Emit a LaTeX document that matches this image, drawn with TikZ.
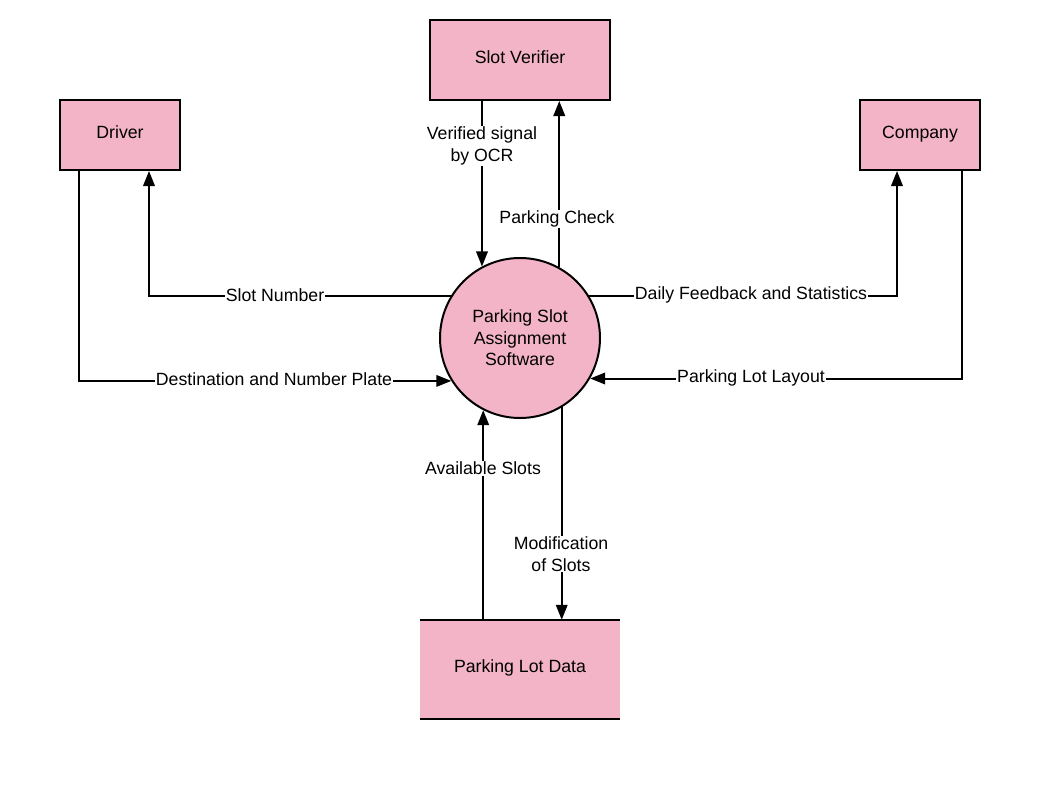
\documentclass[tikz,border=0pt]{standalone}
\usepackage{fontspec}
\setmainfont{Liberation Sans}
\usetikzlibrary{arrows.meta,calc}
\definecolor{boxpink}{HTML}{F3B4C7}
\begin{document}
\begin{tikzpicture}[x=1pt,y=-1pt,
  every node/.style={font=\fontsize{17.7}{21.5}\selectfont, text=black},
  entity/.style={draw=black, line width=2pt, fill=boxpink, inner sep=0pt, text height=13pt, text depth=6.4pt},
  process/.style={draw=black, line width=2pt, fill=boxpink, circle, minimum size=160pt, inner sep=0pt, align=center},
  store/.style={fill=boxpink, inner sep=0pt, minimum width=200pt, minimum height=99pt, text height=13pt, text depth=6.4pt},
  flow/.style={line width=2pt, -{Triangle[length=15pt,width=11.5pt]}},
  lbl/.style={fill=white, inner sep=1pt, align=center}]
  \useasboundingbox[fill=white] (0,0) rectangle (1040,800);

  % external entities
  \node[entity, minimum width=180pt, minimum height=80pt] (sv) at (520,60) {Slot Verifier};
  \node[entity, minimum width=120pt, minimum height=70pt] (dr) at (120,135) {Driver};
  \node[entity, minimum width=120pt, minimum height=70pt] (co) at (920,135) {Company};

  % central process
  \node[process] (ps) at (520,338) {Parking Slot\\Assignment\\Software};

  % data store: open sides, top and bottom rules only
  \node[store] (pl) at (520,669.5) {Parking Lot Data};
  \draw[line width=2pt] (pl.north west) -- (pl.north east);
  \draw[line width=2pt] (pl.south west) -- (pl.south east);

  % data flows
  \draw[flow] (sv.south -| ps.118.4) -- (ps.118.4);
  \draw[flow] (ps.61.6) -- (sv.south -| ps.61.6);
  \draw[flow] (ps.149.2) -| ($(dr.south east)+(-32,0)$);
  \draw[flow] ($(dr.south west)+(20,0)$) |- (ps.212.5);
  \draw[flow] (ps.31.7) -| ($(co.south west)+(38,0)$);
  \draw[flow] ($(co.south east)+(-19,0)$) |- (ps.-30);
  \draw[flow] (pl.north -| ps.243.3) -- (ps.243.3);
  \draw[flow] (ps.-59.2) -- (pl.north -| ps.-59.2);

  % flow labels
  \node[lbl] (l1) at (482,146) {Verified signal\\by OCR};
  \node[lbl] (l2) at (557,219) {Parking Check};
  \node[lbl] (l3) at (275,295) {Slot Number};
  \node[lbl] (l4) at (274,379) {Destination and Number Plate};
  \node[lbl] (l5) at (751,295) {Daily Feedback and Statistics};
  \node[lbl] (l6) at (751,378) {Parking Lot Layout};
  \node[lbl] (l7) at (483,468) {Available Slots};
  \node[lbl] (l8) at (561,554) {Modification\\of Slots};
\end{tikzpicture}
\end{document}
